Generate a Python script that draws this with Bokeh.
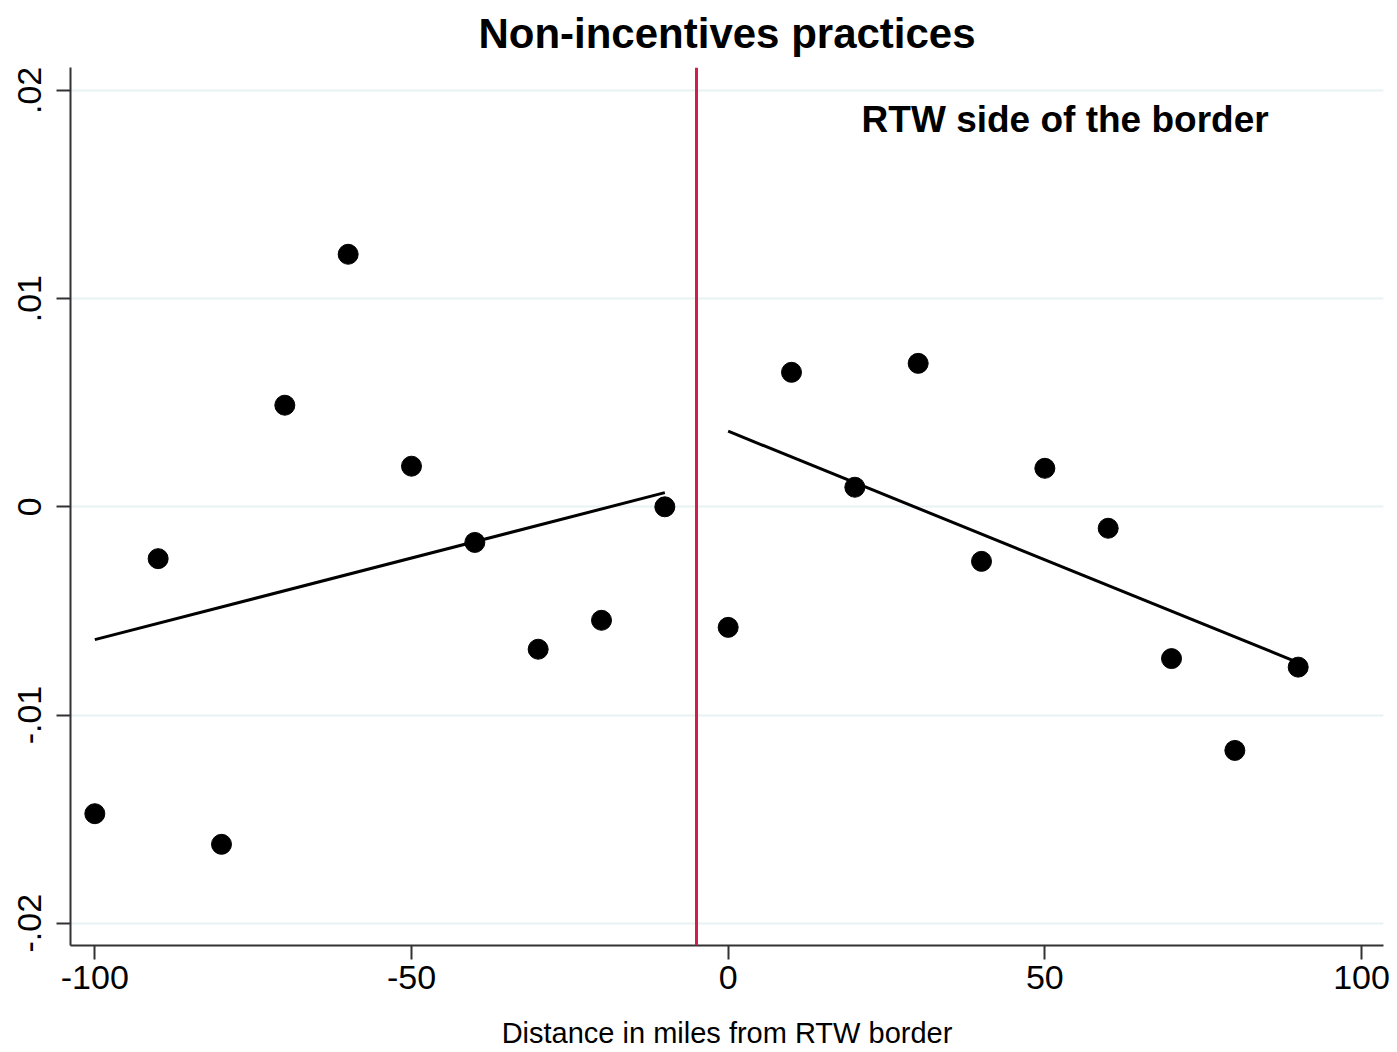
from bokeh.plotting import figure
from bokeh.models import Span, Label, FixedTicker, Range1d
from bokeh.embed import file_html
from bokeh.resources import INLINE

# Binned scatter data (distance bins, residual means)
left_x = [-100, -90, -80, -70, -60, -50, -40, -30, -20, -10]
left_y = [-0.01474, -0.00249, -0.01621, 0.00488, 0.01213, 0.00195, -0.00171, -0.00684, -0.00545, 0.0]
right_x = [0, 10, 20, 30, 40, 50, 60, 70, 80, 90]
right_y = [-0.00579, 0.00646, 0.00094, 0.00689, -0.00262, 0.00185, -0.00103, -0.00729, -0.0117, -0.0077]

# Linear fit endpoints on each side
fit_left_x = [-100, -10]
fit_left_y = [-0.00638, 0.00068]
fit_right_x = [0, 90]
fit_right_y = [0.00363, -0.00748]

border_x = -5
x_ticks = [-100, -50, 0, 50, 100]
x_tick_labels = {-100: "-100", -50: "-50", 0: "0", 50: "50", 100: "100"}
y_ticks = [-0.02, -0.01, 0.0, 0.01, 0.02]
y_tick_labels = {-0.02: "-.02", -0.01: "-.01", 0.0: "0", 0.01: ".01", 0.02: ".02"}

title_text = "Non-incentives practices"
note_text = "RTW side of the border"

FONT = "Liberation Sans"

Y0, Y1 = -0.02107, 0.0211
p = figure(width=1397, height=1052, output_backend="svg", toolbar_location=None,
           x_range=Range1d(-103.84, 103.47), y_range=Range1d(Y0, Y1),
           min_border_left=70, min_border_right=14, min_border_top=67, min_border_bottom=107,
           title=title_text)

p.title.text_font = FONT
p.title.text_font_size = "42px"
p.title.text_font_style = "bold"
p.title.align = "center"
p.title.text_color = "black"
p.title.vertical_align = "top"
p.title.standoff = 17

p.outline_line_color = None
p.background_fill_color = "white"
p.border_fill_color = "white"

# grids
p.xgrid.grid_line_color = None
p.ygrid.ticker = FixedTicker(ticks=y_ticks)
p.ygrid.grid_line_color = "#e8f1f3"
p.ygrid.grid_line_width = 2

# axes
for ax in (p.xaxis[0], p.yaxis[0]):
    ax.axis_line_color = "#333333"
    ax.axis_line_width = 2
    ax.major_tick_line_color = "#333333"
    ax.major_tick_line_width = 2
    ax.major_tick_in = 0
    ax.major_tick_out = 14
    ax.minor_tick_line_color = None
    ax.major_label_text_font = FONT
    ax.major_label_text_font_size = "34px"
    ax.major_label_text_color = "black"

p.xaxis.ticker = FixedTicker(ticks=x_ticks)
p.xaxis.major_label_overrides = x_tick_labels
p.xaxis.major_label_standoff = 6
p.xaxis.axis_label = "Distance in miles from RTW border"
p.xaxis.axis_label_text_font = FONT
p.xaxis.axis_label_text_font_size = "29px"
p.xaxis.axis_label_text_font_style = "normal"
p.xaxis.axis_label_text_color = "black"
p.xaxis.axis_label_standoff = 25

p.yaxis.ticker = FixedTicker(ticks=y_ticks)
p.yaxis.major_label_overrides = y_tick_labels
p.yaxis.major_label_orientation = "vertical"
p.yaxis.major_label_standoff = 15

# border line
p.add_layout(Span(location=border_x, dimension="height", line_color="#d01f4d", line_width=3))

# fit lines
p.line(fit_left_x, fit_left_y, line_color="black", line_width=3)
p.line(fit_right_x, fit_right_y, line_color="black", line_width=3)

# scatter
p.scatter(left_x, left_y, size=20, fill_color="black", line_color="black")
p.scatter(right_x, right_y, size=20, fill_color="black", line_color="black")

p.add_layout(Label(x=53.2, y=0.01859, text=note_text, text_font=FONT,
                   text_font_size="37px", text_font_style="bold", text_align="center",
                   text_baseline="middle", text_color="black"))

open("out.html", "w").write(file_html(p, INLINE))
